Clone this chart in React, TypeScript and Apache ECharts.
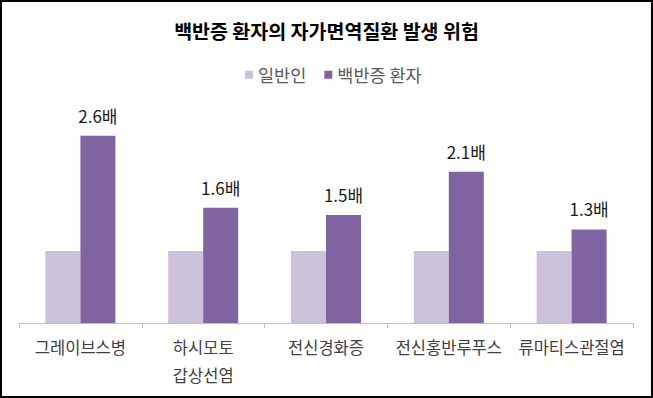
import React, { useEffect, useRef } from "react";
import * as echarts from "echarts";

const categories = ["그레이브스병", "하시모토\n갑상선염", "전신경화증", "전신홍반루푸스", "류마티스관절염"];
const generalValues = [1, 1, 1, 1, 1];
const vitiligoValues = [2.6, 1.6, 1.5, 2.1, 1.3];
const seriesNames = ["일반인", "백반증 환자"];
const titleText = "백반증 환자의 자가면역질환 발생 위험";

const FONT = "'Noto Sans CJK KR', 'Noto Sans', sans-serif";

export default function App() {
  const ref = useRef<HTMLDivElement>(null);
  useEffect(() => {
    if (!ref.current) return;
    const chart = echarts.init(ref.current, null, { renderer: "svg" });
    chart.setOption({
      animation: false,
      backgroundColor: "#ffffff",
      textStyle: { fontFamily: FONT },
      title: {
        text: titleText,
        left: "center",
        top: 16,
        textStyle: { fontFamily: FONT, fontSize: 19.5, fontWeight: "bold", color: "#000000" },
      },
      legend: {
        data: seriesNames,
        left: 240,
        top: 61,
        itemWidth: 8,
        itemHeight: 8,
        itemGap: 18,
        icon: "rect",
        textStyle: { fontFamily: FONT, fontSize: 17.5, color: "#595959" },
      },
      grid: { left: 19, right: 20, top: 107, bottom: 75, containLabel: false },
      xAxis: {
        type: "category",
        data: categories,
        axisLine: { lineStyle: { color: "#bfbfbf", width: 1 } },
        axisTick: { show: true, length: 5, lineStyle: { color: "#bfbfbf" } },
        axisLabel: {
          fontFamily: FONT,
          fontSize: 16.5,
          color: "#404040",
          lineHeight: 28,
          margin: 10,
          interval: 0,
        },
      },
      yAxis: {
        type: "value",
        min: 0,
        max: 3,
        show: false,
        splitLine: { show: false },
      },
      series: [
        {
          name: seriesNames[0],
          type: "bar",
          data: generalValues,
          barWidth: 35,
          barGap: "0%",
          itemStyle: { color: "#ccc1da" },
        },
        {
          name: seriesNames[1],
          type: "bar",
          data: vitiligoValues,
          barWidth: 35,
          barGap: "0%",
          itemStyle: { color: "#8064a2" },
          label: {
            show: true,
            position: "top",
            distance: 12,
            fontFamily: FONT,
            fontSize: 17,
            lineHeight: 17,
            color: "#1a1a1a",
            formatter: (p: any) => p.value.toFixed(1) + "배",
          },
        },
      ],
    });
    return () => chart.dispose();
  }, []);
  return (
    <div style={{ position: "fixed", left: 0, top: 0, width: 653, height: 398, background: "#fff" }}>
      <div ref={ref} style={{ position: "absolute", left: 0, top: 0, width: 653, height: 398 }} />
      <div
        style={{
          position: "absolute",
          left: 0,
          top: 0,
          width: 653,
          height: 398,
          boxSizing: "border-box",
          border: "2px solid #000",
          pointerEvents: "none",
        }}
      />
    </div>
  );
}
